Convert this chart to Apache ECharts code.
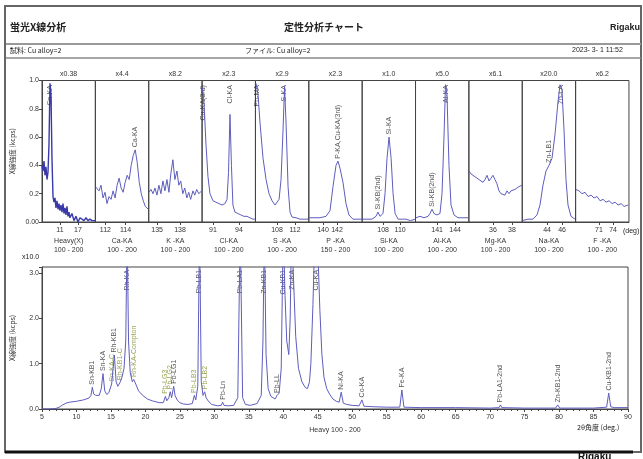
<!DOCTYPE html>
<html><head><meta charset="utf-8">
<script src="https://cdn.jsdelivr.net/npm/echarts@6/dist/echarts.min.js"></script>
<style>html,body{margin:0;padding:0;background:#fff}#c{width:643px;height:459px}</style>
</head><body><div id="c"></div>
<script>
// ---------- DATA ----------
const panelNames  = ['Heavy(X)','Ca-KA','K -KA','Cl-KA','S -KA','P -KA','Si-KA','Al-KA','Mg-KA','Na-KA','F -KA'];
const panelRanges = ['100 - 200','100 - 200','100 - 200','100 - 200','100 - 200','150 - 200','100 - 200','100 - 200','100 - 200','100 - 200','100 - 200'];
const panelScales = ['x0.38','x4.4','x8.2','x2.3','x2.9','x2.3','x1.0','x5.0','x6.1','x20.0','x6.2'];
const panelTicks  = [[11,17],[112,114],[135,138],[91,94],[108,112],[140,142],[108,110],[141,144],[36,38],[44,46],[71,74]];
const panelMin    = [5, 111, 133.9, 89.74, 103.2, 137.97, 105.55, 137.4, 33.46, 40.7, 66];
const panelMax    = [22.8, 116.3, 140.9, 95.9, 115.06, 145.6, 111.8, 146.3, 39.08, 47.8, 77.4];
const panelYTicks = ['0.00','0.2','0.4','0.6','0.8','1.0'];

const heavyAngle = [5.0,5.33,5.67,6.0,6.33,6.67,7.0,7.33,7.67,8.0,8.33,8.67,9.0,9.33,9.67,10,10.33,10.67,11,11.33,11.67,12,12.33,12.67,13,13.33,13.67,14,14.33,15,15.67,16.33,17,17.67,18.33,19,19.67,20.33,21,21.67,22.67];
const heavyInt   = [0.40,0.36,0.43,0.33,0.39,0.30,0.35,0.55,0.98,0.90,0.45,0.18,0.14,0.17,0.10,0.15,0.09,0.13,0.08,0.12,0.07,0.13,0.06,0.10,0.05,0.11,0.04,0.07,0.03,0.06,0.01,0.04,0.0,0.03,0.02,0.01,0.03,0.01,0.02,0.01,0.01];
const caAngle = [111.0,111.16,111.36,111.56,111.76,111.96,112.16,112.36,112.56,112.76,112.96,113.16,113.36,113.56,113.76,113.96,114.16,114.36,114.56,114.76,114.96,115.16,115.36,115.56,115.76,115.96,116.26];
const caInt   = [0.25,0.26,0.22,0.26,0.17,0.21,0.13,0.18,0.16,0.22,0.17,0.26,0.31,0.24,0.21,0.28,0.33,0.30,0.40,0.47,0.51,0.42,0.28,0.20,0.15,0.11,0.09];
const kAngle = [133.94,134.2,134.46,134.72,134.98,135.24,135.5,135.76,136.03,136.29,136.55,136.8,137.07,137.33,137.6,137.85,138.1,138.37,138.63,138.9,139.15,139.4,139.7,139.94,140.2,140.46,140.85];
const kInt   = [0.21,0.23,0.20,0.24,0.19,0.26,0.20,0.29,0.22,0.30,0.21,0.34,0.44,0.30,0.36,0.26,0.29,0.20,0.24,0.17,0.21,0.16,0.22,0.19,0.23,0.20,0.22];
const clAngle = [89.79,89.96,90.19,90.42,90.65,91.0,91.34,91.69,92.04,92.38,92.62,92.79,92.96,93.13,93.30,93.53,93.87,94.22,94.57,94.92,95.26,95.6,95.83];
const clInt   = [0.95,0.85,0.55,0.32,0.20,0.15,0.14,0.13,0.12,0.13,0.16,0.35,0.76,0.40,0.12,0.07,0.06,0.05,0.04,0.04,0.03,0.02,0.02];
const sAngle = [103.33,103.78,104.22,104.89,105.56,106.22,106.89,107.56,108.0,108.45,108.89,109.33,109.67,110.0,110.45,110.89,111.33,112.22,113.1,114.0,114.9];
const sInt   = [0.98,0.90,0.70,0.45,0.30,0.20,0.15,0.12,0.12,0.16,0.30,0.65,0.96,0.70,0.25,0.07,0.035,0.03,0.02,0.02,0.02];
const pAngle = [138.0,138.71,139.57,140.43,141.0,141.43,141.86,142.14,142.43,142.86,143.29,143.71,144.28,145.0,145.57];
const pInt   = [0.03,0.03,0.03,0.04,0.08,0.25,0.40,0.43,0.38,0.28,0.13,0.05,0.02,0.02,0.02];
const siAngle = [105.59,106.11,106.7,107.17,107.4,107.64,107.99,108.23,108.46,108.7,108.94,109.17,109.41,109.76,110.24,110.7,111.2,111.78];
const siInt   = [0.02,0.02,0.02,0.04,0.07,0.04,0.06,0.20,0.45,0.60,0.45,0.20,0.06,0.02,0.02,0.02,0.01,0.02];
const alAngle = [137.48,138.15,138.82,139.48,139.82,140.15,140.48,140.98,141.48,141.82,142.15,142.4,142.65,142.98,143.32,143.82,144.48,145.15,146.15];
const alInt   = [0.03,0.04,0.03,0.04,0.06,0.09,0.06,0.05,0.06,0.20,0.60,0.97,0.90,0.40,0.12,0.05,0.03,0.03,0.03];
const mgAngle = [33.47,33.68,33.89,34.1,34.31,34.52,34.73,34.95,35.16,35.37,35.58,35.79,36.0,36.21,36.42,36.63,36.84,37.05,37.26,37.47,37.68,37.89,38.1,38.31,38.52,38.73,39.05];
const mgInt   = [0.36,0.34,0.35,0.32,0.33,0.30,0.31,0.28,0.30,0.33,0.29,0.31,0.33,0.30,0.27,0.22,0.20,0.21,0.19,0.22,0.20,0.22,0.21,0.23,0.22,0.25,0.26];
const naAngle = [40.73,41.46,42.13,42.66,43.06,43.46,43.86,44.26,44.66,45.06,45.46,45.73,45.99,46.26,46.52,46.79,47.19,47.73];
const naInt   = [0.01,0.02,0.02,0.05,0.12,0.26,0.36,0.40,0.45,0.62,0.85,0.97,0.93,0.65,0.30,0.12,0.04,0.02];
const fAngle = [66.09,66.73,67.37,68.01,68.66,69.3,69.94,70.58,71.22,71.87,72.51,73.15,73.79,74.43,75.08,75.72,76.36,77.22];
const fInt   = [0.23,0.22,0.20,0.21,0.18,0.19,0.17,0.18,0.15,0.16,0.14,0.15,0.13,0.14,0.12,0.13,0.11,0.12];

const panelAngles = [heavyAngle,caAngle,kAngle,clAngle,sAngle,pAngle,siAngle,alAngle,mgAngle,naAngle,fAngle];
const panelInts   = [heavyInt,caInt,kInt,clInt,sInt,pInt,siInt,alInt,mgInt,naInt,fInt];

// panel peak labels: [panel, angle, peak height, text]  (rising from peak)
const panelPeakLabels = [[1,114.96,0.51,'Ca-KA'],[5,142.14,0.43,'P-KA,Cu-KA(3rd)'],[6,107.4,0.07,'Si-KB(2nd)'],[6,108.7,0.60,'Si-KA'],[7,140.15,0.09,'Si-KB(2nd)'],[9,44.26,0.40,'Zn-LB1']];
// panel labels hanging from the top: [panel, angle, text]
const panelTopLabels = [[0,7.75,'Sn-KA'],[3,89.9,'Cu-KA(3rd)'],[3,92.96,'Cl-KA'],[4,103.45,'Pb-MA'],[4,109.67,'S-KA'],[7,142.5,'Al-KA'],[9,45.85,'Zn-LA']];

// main scan
const scanAngle = [5,6,7,7.5,8,8.5,9,10,11,11.8,12.1,12.3,12.5,12.8,13.3,13.6,13.85,14.1,14.4,14.7,15.1,15.5,15.75,16.0,16.3,16.6,16.9,17.15,17.35,17.55,17.8,18.1,18.3,18.6,19.0,19.6,20.3,21.0,22.0,22.6,22.9,23.1,23.4,23.6,23.8,24.1,24.3,24.6,25.0,25.5,26.2,26.8,27.1,27.3,27.6,27.85,28.1,28.35,28.6,28.8,29.1,29.6,30.5,31.0,31.2,31.4,32.0,32.8,33.4,33.75,34.1,34.5,35.2,36.2,36.8,37.05,37.25,37.5,37.8,38.2,38.8,39.1,39.4,39.7,39.85,40.0,40.25,40.5,40.8,41.0,41.2,41.45,41.8,42.2,42.7,43.2,43.5,43.8,44.0,44.3,44.6,44.9,45.3,45.6,45.9,46.3,46.7,47.2,47.7,48.1,48.4,48.7,49.2,50.0,51.0,51.4,51.7,53.0,55.0,56.9,57.2,57.5,60.0,65.0,70.0,71.3,71.5,71.7,75.0,79.5,79.8,80.1,85.0,86.9,87.2,87.5,88.0,90.0];
const scanInt   = [0,0,0.01,0.04,0.09,0.13,0.15,0.17,0.2,0.24,0.3,0.48,0.33,0.3,0.3,0.45,0.78,0.4,0.32,0.36,0.55,1.19,0.6,0.5,0.58,0.7,0.9,1.5,4,1.5,0.8,0.6,0.65,0.55,0.4,0.3,0.22,0.18,0.14,0.14,0.28,0.18,0.25,0.38,0.25,0.5,0.3,0.2,0.14,0.11,0.1,0.12,0.3,0.2,0.5,4,0.6,0.3,0.38,0.25,0.18,0.1,0.07,0.08,0.15,0.08,0.07,0.08,0.25,4,0.25,0.1,0.08,0.12,0.3,1.5,4,1.2,0.45,0.28,0.22,0.3,0.35,0.9,2.5,4,2.5,1.5,1.2,2.0,4,3.0,1.6,0.9,0.6,0.47,0.45,0.6,1.0,2.3,4,4,2.2,1.2,0.7,0.45,0.33,0.22,0.17,0.15,0.37,0.13,0.1,0.08,0.07,0.2,0.06,0.05,0.04,0.04,0.42,0.04,0.03,0.03,0.02,0.03,0.09,0.03,0.02,0.02,0.09,0.02,0.02,0.04,0.35,0.05,0.03,0.03];

// labels rising from peaks: [angle, height, text]
const scanPeakLabels = [[12.3,0.48,'Sn-KB1'],[13.85,0.78,'Sn-KA'],[15.1,0.55,'Sn-KA-C'],[15.5,1.19,'Rh-KB1'],[16.3,0.58,'Rh-KB1-C'],[18.3,0.65,'Rh-KA-Compton'],[22.9,0.28,'Pb-LG3'],[23.6,0.38,'Pb-LG2'],[24.1,0.5,'Pb-LG1'],[27.1,0.3,'Pb-LB3'],[28.6,0.38,'Pb-LB2'],[31.2,0.15,'Pb-Ln'],[39.1,0.3,'Pb-LL'],[48.4,0.37,'Ni-KA'],[51.4,0.2,'Co-KA'],[57.2,0.42,'Fe-KA'],[71.5,0.09,'Pb-LA1-2nd'],[79.8,0.09,'Zn-KB1-2nd'],[87.2,0.35,'Cu-KB1-2nd']];
// labels hanging from the top: [angle, text]
const scanTopLabels = [[17.35,'Rh-KA'],[27.85,'Pb-LB1'],[33.75,'Pb-LA1'],[37.25,'Zn-KB1'],[40.0,'Cu-KB1'],[41.2,'Zn-KA'],[44.75,'Cu-KA']];
const oliveLabels = ['Rh-KA-Compton','Pb-LG3','Pb-LG2','Pb-LB3','Pb-LB2','Sn-KA-C','Rh-KB1-C'];

// ---------- CHART ----------
const FONT = '"Liberation Sans","Noto Sans CJK JP",sans-serif';
const JFONT = '"Noto Sans CJK JP","Liberation Sans",sans-serif';
const LINE = '#5d5dbf';
const AX = '#444';
const zip = (a,b) => a.map((v,i)=>[v,b[i]]);

const grids=[], xAxes=[], yAxes=[], series=[];
const PL=42, PW=53.36, PT=80.5, PH=141.5;

function upLabel(color){ return {show:true, position:'top', distance:2, rotate:90, align:'left', verticalAlign:'middle', fontSize:7, color:color||'#2a2a2a', fontFamily:FONT}; }
function downLabel(color){ return {show:true, position:'bottom', distance:2, rotate:90, align:'right', verticalAlign:'middle', fontSize:7, color:color||'#2a2a2a', fontFamily:FONT}; }

for (let i=0;i<11;i++){
  grids.push({left:PL+i*PW, top:PT, width:PW, height:PH, show:true, borderColor:AX, borderWidth:1});
  xAxes.push({gridIndex:i, type:'value', min:panelMin[i], max:panelMax[i], position:'bottom',
    axisLine:{show:true, lineStyle:{color:AX}}, splitLine:{show:false},
    axisTick:{show:true, customValues:panelTicks[i], length:3, lineStyle:{color:AX}},
    axisLabel:{customValues:panelTicks[i], fontSize:7, color:'#333', margin:5, fontFamily:FONT},
    name:panelNames[i]+'\n'+panelRanges[i], nameLocation:'middle', nameGap:15,
    nameTextStyle:{fontSize:7, color:'#333', lineHeight:9, fontFamily:FONT}});
  xAxes.push({gridIndex:i, type:'value', min:panelMin[i], max:panelMax[i], position:'top',
    axisLine:{show:false}, axisTick:{show:false}, axisLabel:{show:false}, splitLine:{show:false},
    name:panelScales[i], nameLocation:'middle', nameGap:3, nameTextStyle:{fontSize:7, color:'#333', fontFamily:FONT}});
  yAxes.push({gridIndex:i, type:'value', min:0, max:1, interval:0.2, show:i===0,
    axisLine:{show:true, lineStyle:{color:AX}}, splitLine:{show:false},
    axisTick:{show:true, length:3, lineStyle:{color:AX}},
    axisLabel:{fontSize:7, color:'#333', margin:3, fontFamily:FONT, formatter:(v)=>panelYTicks[Math.round(v*5)]},
    name:'X線強度 (kcps)', nameLocation:'middle', nameGap:26, nameRotate:90,
    nameTextStyle:{fontSize:7, color:'#333', fontFamily:JFONT}});
  series.push({type:'line', xAxisIndex:2*i, yAxisIndex:i, data:zip(panelAngles[i],panelInts[i]),
    showSymbol:false, symbol:'none', clip:true, animation:false,
    lineStyle:{width:i===0?1.4:1, color:i===0?'#3838a8':LINE}});
  const lab = [];
  panelPeakLabels.filter(d=>d[0]===i).forEach(d=>lab.push({value:[d[1],d[2]], name:d[3], label:upLabel()}));
  panelTopLabels.filter(d=>d[0]===i).forEach(d=>lab.push({value:[d[1],0.985], name:d[2], label:downLabel()}));
  if (lab.length) series.push({type:'scatter', xAxisIndex:2*i, yAxisIndex:i, data:lab, symbolSize:1,
    itemStyle:{color:'rgba(0,0,0,0)'}, animation:false, silent:true,
    label:{show:true, formatter:(p)=>p.name}});
}

// main scan grid
grids.push({left:42, top:267, width:586, height:142, show:true, borderColor:AX, borderWidth:1});
xAxes.push({gridIndex:11, type:'value', min:5, max:90, interval:5, position:'bottom',
  axisLine:{show:true, lineStyle:{color:AX}}, splitLine:{show:false},
  axisTick:{show:true, length:3, lineStyle:{color:AX}},
  minorTick:{show:true, splitNumber:5, length:2, lineStyle:{color:AX}},
  axisLabel:{fontSize:7, color:'#333', margin:5, fontFamily:FONT},
  name:'Heavy 100 - 200', nameLocation:'middle', nameGap:18, nameTextStyle:{fontSize:7, color:'#333', fontFamily:FONT}});
yAxes.push({gridIndex:11, type:'value', min:0, max:3.13, interval:1,
  axisLine:{show:true, lineStyle:{color:AX}}, splitLine:{show:false},
  axisTick:{show:true, length:3, lineStyle:{color:AX}},
  axisLabel:{fontSize:7, color:'#333', margin:3, fontFamily:FONT, formatter:(v)=>Number.isInteger(v)?v.toFixed(1):''},
  name:'X線強度 (kcps)', nameLocation:'middle', nameGap:26, nameRotate:90,
  nameTextStyle:{fontSize:7, color:'#333', fontFamily:JFONT}});
series.push({type:'line', xAxisIndex:22, yAxisIndex:11, data:zip(scanAngle,scanInt),
  showSymbol:false, symbol:'none', clip:true, animation:false, lineStyle:{width:1, color:LINE}});
const mainLab = [];
scanPeakLabels.forEach(d=>mainLab.push({value:[d[0],d[1]], name:d[2], label:upLabel(oliveLabels.includes(d[2])?'#7f8f2a':null)}));
scanTopLabels.forEach(d=>mainLab.push({value:[d[0],3.12], name:d[1], label:downLabel()}));
series.push({type:'scatter', xAxisIndex:22, yAxisIndex:11, data:mainLab, symbolSize:1,
  itemStyle:{color:'rgba(0,0,0,0)'}, animation:false, silent:true, label:{show:true, formatter:(p)=>p.name}});

const txt = (x,y,t,o)=>Object.assign({type:'text', left:x, top:y, style:Object.assign({text:t, fill:'#222', font:'9px '+JFONT}, o||{})});
const graphic = [
  {type:'rect', shape:{x:5, y:6, width:636, height:446}, style:{fill:'none', stroke:'#666', lineWidth:2}},
  {type:'line', shape:{x1:5, y1:452, x2:633, y2:452}, style:{stroke:'#111', lineWidth:3}},
  {type:'line', shape:{x1:6, y1:44, x2:641, y2:44}, style:{stroke:'#999', lineWidth:2}},
  {type:'line', shape:{x1:6, y1:58, x2:641, y2:58}, style:{stroke:'#888', lineWidth:1.5}},
  txt(10,22,'蛍光X線分析',{font:'bold 10px '+JFONT}),
  txt(284,22,'定性分析チャート',{font:'bold 10px '+JFONT}),
  txt(610,23,'Rigaku',{font:'bold 9px '+FONT}),
  txt(10,47,'試料: Cu alloy=2',{font:'7px '+JFONT}),
  txt(245,47,'ファイル: Cu alloy=2',{font:'7px '+JFONT}),
  txt(572,47,'2023- 3- 1 11:52',{font:'7px '+FONT}),
  txt(623,228,'(deg)',{font:'7px '+FONT}),
  txt(22,254,'x10.0',{font:'7px '+FONT}),
  txt(577,424,'2θ角度 (deg.)',{font:'7px '+JFONT}),
  txt(578,452,'Rigaku',{font:'bold 10px '+FONT, fill:'#111'})
];

const chart = echarts.init(document.getElementById('c'), null, {renderer:'canvas'});
chart.setOption({animation:false, backgroundColor:'#fff', textStyle:{fontFamily:FONT},
  grid:grids, xAxis:xAxes, yAxis:yAxes, series:series, graphic:graphic});
</script></body></html>
